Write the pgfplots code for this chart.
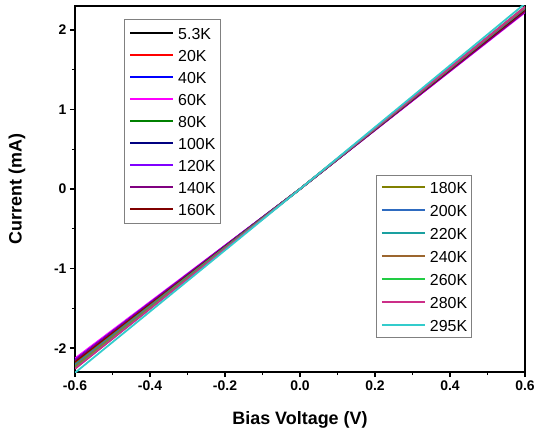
\documentclass[border=0pt]{standalone}
\usepackage{fontspec}
\setmainfont{Liberation Sans}
\usepackage{pgfplots}
\pgfplotsset{compat=1.18}
\definecolor{kBlack}{HTML}{000000}
\definecolor{kRed}{HTML}{FF0000}
\definecolor{kBlue}{HTML}{0000FF}
\definecolor{kMagenta}{HTML}{FF00FF}
\definecolor{kGreen}{HTML}{008000}
\definecolor{kNavy}{HTML}{000080}
\definecolor{kViolet}{HTML}{8000FF}
\definecolor{kPurple}{HTML}{800080}
\definecolor{kWine}{HTML}{800000}
\definecolor{kOlive}{HTML}{808000}
\definecolor{kRoyal}{HTML}{2E6BC0}
\definecolor{kDarkCyan}{HTML}{1AA0A0}
\definecolor{kOrange}{HTML}{9C662E}
\definecolor{kLime}{HTML}{22CC44}
\definecolor{kPink}{HTML}{CC2E88}
\definecolor{kCyan}{HTML}{33CCCC}
\begin{document}
\begin{tikzpicture}
\pgfplotsset{
  common/.style={scale only axis, width=450bp, height=366bp,
    xmin=-0.6, xmax=0.6, ymin=-2.3, ymax=2.3, clip=true},
  leg/.style={legend cell align=left,
    legend image code/.code={\draw[##1, line width=2bp] (0bp,0bp) -- (43bp,0bp);},
    legend style={draw=gray, line width=0.8bp,
      font=\fontsize{16}{18}\selectfont,
      inner xsep=4.5bp, inner ysep=3bp, column sep=4bp,
      nodes={inner sep=0bp, text height=15bp, text depth=2.5bp}}}
}
\begin{axis}[common, leg,
  axis line style={line width=1.6bp},
  tick pos=left, tick align=outside,
  xtick={-0.6,-0.4,-0.2,0,0.2,0.4,0.6},
  ytick={-2,-1,0,1,2},
  minor x tick num=1, minor y tick num=1,
  major tick length=5bp, minor tick length=3bp,
  tick style={line width=1.3bp, black},
  /pgf/number format/assume math mode=true,
  ticklabel style={font=\fontsize{14}{16}\selectfont\bfseries},
  x tick label style={/pgf/number format/fixed, /pgf/number format/fixed zerofill, /pgf/number format/precision=1},
  xlabel={Bias Voltage (V)}, ylabel={Current (mA)},
  label style={font=\fontsize{18}{20}\selectfont\bfseries},
  xlabel style={at={(axis description cs:0.5,-0.131)}, anchor=center},
  ylabel style={at={(axis description cs:-0.129,0.5)}, anchor=center},
  legend style={at={(rel axis cs:0.1096,0.9637)}, anchor=north west, row sep=4.5bp, inner ysep=5bp},
]
\addplot[line width=1.8bp, color=kBlack] coordinates {(-0.6,-2.16) (0,0) (0.6,2.25)}; \addlegendentry{5.3K}
\addplot[line width=1.8bp, color=kRed] coordinates {(-0.6,-2.16) (0,0) (0.6,2.25)}; \addlegendentry{20K}
\addplot[line width=1.8bp, color=kBlue] coordinates {(-0.6,-2.15) (0,0) (0.6,2.24)}; \addlegendentry{40K}
\addplot[line width=1.8bp, color=kMagenta] coordinates {(-0.6,-2.13) (0,0) (0.6,2.22)}; \addlegendentry{60K}
\addplot[line width=1.8bp, color=kGreen] coordinates {(-0.6,-2.17) (0,0) (0.6,2.25)}; \addlegendentry{80K}
\addplot[line width=1.8bp, color=kNavy] coordinates {(-0.6,-2.15) (0,0) (0.6,2.24)}; \addlegendentry{100K}
\addplot[line width=1.8bp, color=kViolet] coordinates {(-0.6,-2.15) (0,0) (0.6,2.23)}; \addlegendentry{120K}
\addplot[line width=1.8bp, color=kPurple] coordinates {(-0.6,-2.16) (0,0) (0.6,2.23)}; \addlegendentry{140K}
\addplot[line width=1.8bp, color=kWine] coordinates {(-0.6,-2.18) (0,0) (0.6,2.25)}; \addlegendentry{160K}
\coordinate (SW) at (rel axis cs:0,0);
\coordinate (NE) at (rel axis cs:1,1);
\end{axis}
\begin{axis}[common, leg, hide axis,
  legend style={at={(rel axis cs:0.669,0.538)}, anchor=north west, row sep=5.5bp},
]
\addplot[line width=1.8bp, color=kOlive] coordinates {(-0.6,-2.20) (0,0) (0.6,2.27)}; \addlegendentry{180K}
\addplot[line width=1.8bp, color=kRoyal] coordinates {(-0.6,-2.21) (0,0) (0.6,2.27)}; \addlegendentry{200K}
\addplot[line width=1.8bp, color=kDarkCyan] coordinates {(-0.6,-2.22) (0,0) (0.6,2.28)}; \addlegendentry{220K}
\addplot[line width=1.8bp, color=kOrange] coordinates {(-0.6,-2.23) (0,0) (0.6,2.28)}; \addlegendentry{240K}
\addplot[line width=1.8bp, color=kLime] coordinates {(-0.6,-2.25) (0,0) (0.6,2.29)}; \addlegendentry{260K}
\addplot[line width=1.8bp, color=kPink] coordinates {(-0.6,-2.26) (0,0) (0.6,2.29)}; \addlegendentry{280K}
\addplot[line width=1.8bp, color=kCyan] coordinates {(-0.6,-2.31) (0,0) (0.6,2.33)}; \addlegendentry{295K}
\end{axis}
\pgfresetboundingbox
\path ([xshift=-75bp,yshift=-65bp]SW) rectangle ([xshift=12bp,yshift=6bp]NE);
\end{tikzpicture}
\end{document}
